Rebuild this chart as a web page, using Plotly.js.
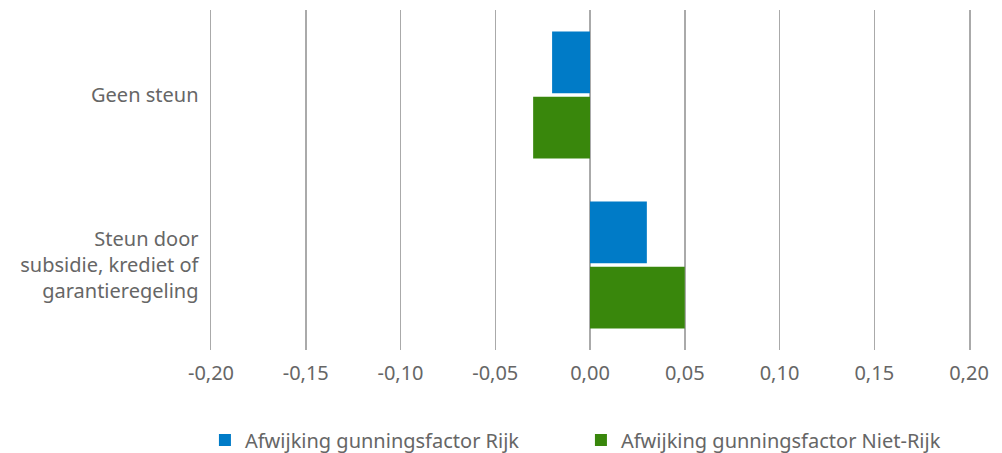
<!DOCTYPE html>
<html>
<head>
<meta charset="utf-8">
<script src="https://cdn.plot.ly/plotly-3.0.1.min.js"></script>
<style>html,body{margin:0;padding:0;background:#fff;}#chart{width:1002px;height:453px;}</style>
</head>
<body>
<div id="chart"></div>
<script>
const categories = ["Geen steun", "Steun door<br>subsidie, krediet of<br>garantieregeling"];
const seriesNames = ["Afwijking gunningsfactor Rijk", "Afwijking gunningsfactor Niet-Rijk"];
const rijk = [-0.02, 0.03];
const nietRijk = [-0.03, 0.05];
const tickVals = [-0.20, -0.15, -0.10, -0.05, 0, 0.05, 0.10, 0.15, 0.20];
const tickText = ["-0,20", "-0,15", "-0,10", "-0,05", "0,00", "0,05", "0,10", "0,15", "0,20"];

const font = {family: "Noto Sans, Open Sans, sans-serif", size: 20, color: "#666666"};

const data = [
  {type: "bar", orientation: "h", name: seriesNames[0], y: categories, x: rijk,
   marker: {color: "#007BC7"}, hoverinfo: "x"},
  {type: "bar", orientation: "h", name: seriesNames[1], y: categories, x: nietRijk,
   marker: {color: "#39870C"}, hoverinfo: "x"}
];

const layout = {
  width: 1002, height: 453,
  margin: {l: 211, r: 33, t: 10, b: 103, autoexpand: false},
  paper_bgcolor: "#fff", plot_bgcolor: "#fff",
  font: font,
  barmode: "group", bargap: 0.235, bargroupgap: 0.05,
  xaxis: {range: [-0.20, 0.20], tickvals: tickVals, ticktext: tickText,
          showgrid: true, gridcolor: "#aaaaaa", gridwidth: 1.5, zeroline: false,
          showline: false, ticks: "", ticklabelstandoff: 9, tickfont: font, fixedrange: true},
  yaxis: {autorange: "reversed", showgrid: false, zeroline: false,
          showline: true, mirror: true, linecolor: "#aaaaaa", linewidth: 1.5,
          ticks: "", ticklabelstandoff: 7, tickfont: font, fixedrange: true},
  showlegend: true,
  legend: {orientation: "h", x: -0.008, xanchor: "left", y: -0.265, yanchor: "middle",
           font: font, traceorder: "normal", itemwidth: 30, entrywidth: 331},
};

Plotly.newPlot("chart", data, layout, {displayModeBar: false, staticPlot: true});
</script>
</body>
</html>
